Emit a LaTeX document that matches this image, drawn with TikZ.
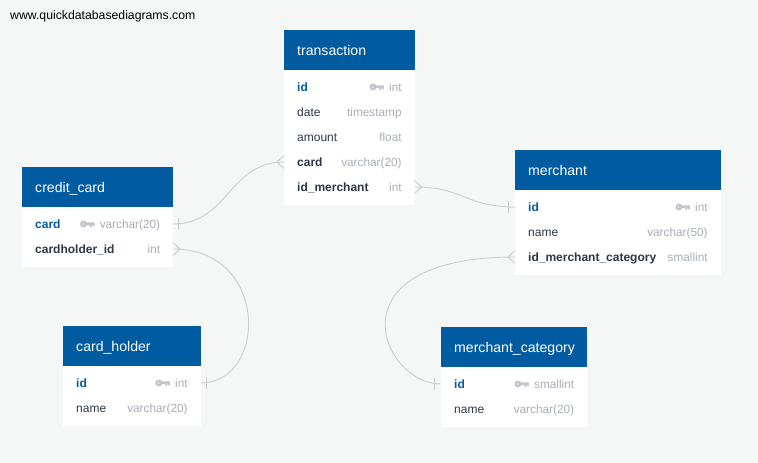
\documentclass[tikz,border=0pt]{standalone}
\usepackage{fontspec}
\setmainfont{Liberation Sans}
\definecolor{pagebg}{HTML}{F5F7F7}
\definecolor{headblue}{HTML}{005BA1}
\definecolor{darktext}{HTML}{2D3748}
\definecolor{typegray}{HTML}{A9AEB6}
\definecolor{keygray}{HTML}{C2C6CC}
\definecolor{linkgray}{HTML}{CBCECF}
\tikzset{
  headbox/.style={fill=headblue,anchor=north west,inner sep=0pt,outer sep=0pt,minimum height=40pt},
  headtext/.style={anchor=west,inner sep=0pt,text=white,text height=10pt,text depth=3pt,font=\fontsize{14.1}{16}\selectfont},
  bodybox/.style={fill=white,anchor=north west,inner sep=0pt,outer sep=0pt},
  rowbox/.style={anchor=west,inner sep=0pt,outer sep=0pt,minimum height=25pt},
  fieldtext/.style={anchor=west,inner sep=0pt,text height=9pt,text depth=3pt,font=\fontsize{12}{14}\selectfont},
  plainfield/.style={fieldtext,text=darktext},
  fkfield/.style={fieldtext,text=darktext,font=\fontsize{12}{14}\selectfont\bfseries},
  pkfield/.style={fieldtext,text=headblue,font=\fontsize{12}{14}\selectfont\bfseries},
  typetext/.style={anchor=east,inner sep=0pt,text height=9pt,text depth=3pt,text=typegray,font=\fontsize{11.8}{14}\selectfont},
  conn/.style={draw=linkgray,line width=0.9pt},
  keyicon/.pic={
    \fill[keygray,even odd rule] (-11pt,0pt) circle (3.5pt) (-11.3pt,0pt) circle (1.1pt);
    \fill[keygray] (-8.5pt,1.6pt) rectangle (0pt,-1pt) (-4.6pt,-1pt) rectangle (-2.8pt,-3pt) (-2pt,-1pt) rectangle (0pt,-2.2pt);
  }
}
% #1 name, #2 left, #3 top, #4 width, #5 body height, #6 title
\newcommand\dbtable[6]{%
  \node[bodybox,minimum width=#4,minimum height=#5] (#1-body) at (#2,#3+40) {};
  \node[headbox,minimum width=#4] (#1) at (#2,#3) {};
  \node[headtext] (#1-title) at (#2+13,#3+22) {#6};
}
% #1 row name, #2 left, #3 centre y, #4 width, #5 field style, #6 field, #7 type
\newcommand\dbrow[7]{%
  \node[rowbox,minimum width=#4] (#1) at (#2,#3) {};
  \node[#5] (#1-f) at (#2+13,#3+1.8) {#6};
  \node[typetext] (#1-t) at (#2+#4-12.7,#3+1.8) {#7};
}
\newcommand\dbkey[1]{\pic at ([xshift=-5pt,yshift=1.8pt]#1-t.west) {keyicon};}
\newcommand\crowleft[1]{\draw[conn] ([yshift=-6.5pt]#1.west) -- ([xshift=-7pt]#1.west) -- ([yshift=6.5pt]#1.west);}
\newcommand\crowright[1]{\draw[conn] ([yshift=-6.5pt]#1.east) -- ([xshift=7pt]#1.east) -- ([yshift=6.5pt]#1.east);}
\newcommand\tickleft[1]{\draw[conn] ([xshift=-6.5pt,yshift=-6pt]#1.west) -- ([xshift=-6.5pt,yshift=6pt]#1.west);}
\newcommand\tickright[1]{\draw[conn] ([xshift=5.5pt,yshift=-6pt]#1.east) -- ([xshift=5.5pt,yshift=6pt]#1.east);}
\begin{document}
\begin{tikzpicture}[x=1pt,y=-1pt]
\fill[pagebg] (0,0) rectangle (758,463);
\useasboundingbox (0,0) rectangle (758,463);
\node[anchor=west,inner sep=0pt,text=black,font=\fontsize{12.25}{14}\selectfont] (brand) at (10,16) {www.quickdatabasediagrams.com};

\dbtable{tx}{284}{30}{130.5}{135}{transaction}
\dbrow{tx-id}{284}{87}{130.5}{pkfield}{id}{int}
\dbrow{tx-date}{284}{112}{130.5}{plainfield}{date}{timestamp}
\dbrow{tx-amount}{284}{137}{130.5}{plainfield}{amount}{float}
\dbrow{tx-card}{284}{162}{130.5}{fkfield}{card}{varchar(20)}
\dbrow{tx-merchant}{284}{187}{130.5}{fkfield}{id\_merchant}{int}
\dbkey{tx-id}

\dbtable{cc}{22}{167}{151}{60}{credit\_card}
\dbrow{cc-card}{22}{224}{151}{pkfield}{card}{varchar(20)}
\dbrow{cc-holder}{22}{249}{151}{fkfield}{cardholder\_id}{int}
\dbkey{cc-card}

\dbtable{ch}{63}{326}{137.5}{60}{card\_holder}
\dbrow{ch-id}{63}{383}{137.5}{pkfield}{id}{int}
\dbrow{ch-name}{63}{408}{137.5}{plainfield}{name}{varchar(20)}
\dbkey{ch-id}

\dbtable{me}{515}{150}{205.5}{85}{merchant}
\dbrow{me-id}{515}{207}{205.5}{pkfield}{id}{int}
\dbrow{me-name}{515}{232}{205.5}{plainfield}{name}{varchar(50)}
\dbrow{me-cat}{515}{257}{205.5}{fkfield}{id\_merchant\_category}{smallint}
\dbkey{me-id}

\dbtable{mc}{441}{327}{146}{60}{merchant\_category}
\dbrow{mc-id}{441}{384}{146}{pkfield}{id}{smallint}
\dbrow{mc-name}{441}{409}{146}{plainfield}{name}{varchar(20)}
\dbkey{mc-id}

\draw[conn] (cc-card.east) .. controls +(55,0) and +(-55,0) .. (tx-card.west);
\tickright{cc-card}\crowleft{tx-card}
\draw[conn] (tx-merchant.east) .. controls +(50,0) and +(-50,0) .. (me-id.west);
\crowright{tx-merchant}\tickleft{me-id}
\draw[conn] (cc-holder.east) .. controls +(97,0) and +(67,0) .. (ch-id.east);
\crowright{cc-holder}\tickright{ch-id}
\draw[conn] (me-cat.west) .. controls +(-187,0) and +(-60,0) .. (mc-id.west);
\crowleft{me-cat}\tickleft{mc-id}
\end{tikzpicture}
\end{document}
